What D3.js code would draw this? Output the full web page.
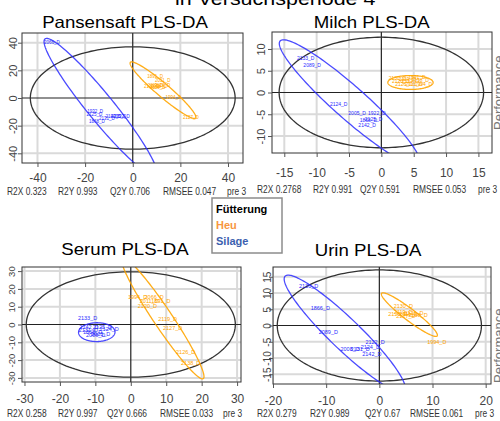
<!DOCTYPE html>
<html><head><meta charset="utf-8">
<script src="https://cdn.jsdelivr.net/npm/d3@7"></script>
<style>body{margin:0;background:#fff}svg{display:block}</style>
</head><body><svg width="500" height="421"></svg>
<script>
// ---------- data ----------
const mainTitle = "in Versuchsperiode 4";
const titles = ["Pansensaft PLS-DA", "Milch PLS-DA", "Serum PLS-DA", "Urin PLS-DA"];
const statR2X = ["0.323", "0.2768", "0.258", "0.279"];
const statR2Y = ["0.993", "0.991", "0.997", "0.989"];
const statQ2Y = ["0.706", "0.591", "0.666", "0.67"];
const statRMSEE = ["0.047", "0.053", "0.033", "0.061"];
const statPre = ["3", "3", "3", "3"];
const legendTitle = "Fütterung";
const groups = ["Heu", "Silage"];

const pansTicksX = [-40, -20, 0, 20, 40];
const pansTicksY = [-40, -20, 0, 20, 40];
const milchTicksX = [-15, -10, -5, 0, 5, 10, 15];
const milchTicksY = [-10, -5, 0, 5, 10];
const serumTicksX = [-30, -20, -10, 0, 10, 20, 30];
const serumTicksY = [-30, -20, -10, 0, 10, 20, 30];
const urinTicksX = [-20, -10, 0, 10, 20];
const urinTicksY = [-15, -10, -5, 0, 5, 10, 15];

// scores [t1, t2, sample]
const pansHeu = [[9.4,15.9,"1891_D"],[12.6,12.5,"2011_D"],[8,8.3,"2120_D"],[9.5,9,"2119_D"],[11,8.5,"2138_D"],[12.5,9,"2126_D"],[10.5,7.8,"2130_D"],[17.1,0.6,"1994_D"],[24.4,-14.2,"2127_D"]];
const pansSilage = [[-34,40.2,"2066_D"],[-15.8,-9.4,"1932_D"],[-16.1,-11.8,"2125_D"],[-15.1,-17.1,"1868_D"],[-10.9,-14.7,"2131_D"],[-8.1,-13.5,"2142_D"],[-6,-13.5,"2005_D"],[-4.6,-13.5,"2122_D"]];
const milchHeu = [[3,2.5,"2120_D"],[4,3,"2119_D"],[5,2,"2011_D"],[6,2.8,"2138_D"],[3.5,1.8,"2126_D"],[5.5,3.5,"1891_D"],[6.5,2,"1994_D"],[4.5,2.5,"2127_D"],[2.5,3.2,"2130_D"]];
const milchSilage = [[-11.7,7.8,"2133_D"],[-10.7,6.3,"2089_D"],[-6.6,-2.7,"2124_D"],[-3.75,-4.7,"2005_D"],[-0.7,-4.7,"1922_D"],[-2,-6.4,"1868_D"],[-1.2,-6.2,"2125_D"],[-2.2,-7.5,"2142_D"]];
const serumHeu = [[1.9,15.6,"1994_D"],[6.6,15.6,"2066_D"],[5.2,13.4,"2011_D"],[8.5,13.4,"1891_D"],[4.7,10.6,"2120_D"],[10.4,3.2,"2119_D"],[11.8,-2.1,"2127_D"],[15.5,-15.5,"2126_D"],[16.9,-21.6,"2138_D"]];
const serumSilage = [[-12.2,3.5,"2133_D"],[-11.8,-1.5,"2142_D"],[-8,-1.5,"2125_D"],[-6.1,-2.4,"2124_D"],[-10.8,-4.3,"1868_D"],[-8.5,-5.2,"2005_D"],[-9.9,-6.1,"2089_D"],[-12,-3,"2131_D"]];
const urinHeu = [[4.5,6,"2130_D"],[3.5,3.5,"2120_D"],[4.5,4,"2119_D"],[5.5,3.5,"2011_D"],[6.5,3.8,"2126_D"],[7.3,3.3,"2138_D"],[5,3,"2127_D"],[10.8,-5,"1994_D"]];
const urinSilage = [[-13.3,12.1,"2130_D"],[-11.1,5.3,"1866_D"],[-9.6,-2.1,"2089_D"],[-0.8,-5.2,"2122_D"],[-1.7,-6.7,"2124_D"],[-5.5,-7.4,"2008_D"],[-3.6,-7.4,"2131_D"],[-1.4,-8.9,"2142_D"]];

// group ellipses [centre t1, centre t2, semi-axis t1, semi-axis t2, minor half-width]
const pansHeuEll = [12.7, 5.65, 13.5, -20.35, 3.5];
const pansSilageEll = [-13.5, -6.7, -23, 49.7, 6.5];
const milchHeuEll = [4.5, 2.3, 3.5, 0, 1.6];
const milchSilageEll = [-4.9, -2.3, -10.6, 14.3, 3];
const serumHeuEll = [9, 3.6, 11.3, -34.1, 3];
const serumSilageEll = [-9.6, -4.3, 4.9, -1.5, 5.3];
const urinHeuEll = [5.65, 3.35, 5.15, -6.65, 1.4];
const urinSilageEll = [-6.5, -2.5, -11, 17.9, 3.5];
// Hotelling T2 ellipse radii [t1, t2]
const pansT2 = [43, 37];
const milchT2 = [15.8, 12.7];
const serumT2 = [29.5, 29.6];
const urinT2 = [19.2, 17.1];

// ---------- drawing ----------
const HEU = "#ffa500", SIL = "#2b2bff";
const FONT = "Liberation Sans, Arial, sans-serif";
const svg = d3.select("svg");
const defs = svg.append("defs");

const panels = [
  {box:[22,33,243,163], xd:[-46.5,46.3], yd:[-47,47], xt:pansTicksX, yt:pansTicksY, heu:pansHeu, sil:pansSilage, eh:pansHeuEll, es:pansSilageEll, t2:pansT2,
   tx:125, ty:28.3, xlabY:181.5, ylabX:16.7, yfs:11, statY:195, statX:[7,58,110,163,227], fs:4.5},
  {box:[272,32,492,153], xd:[-16.9,17.1], yd:[-13.9,13.9], xt:milchTicksX, yt:milchTicksY, heu:milchHeu, sil:milchSilage, eh:milchHeuEll, es:milchSilageEll, t2:milchT2,
   tx:371.7, ty:28.3, xlabY:177, ylabX:265, yfs:11, statY:192.5, statX:[257,313,360,413,478], fs:5},
  {box:[22,267,241,382], xd:[-30.7,31.1], yd:[-32.3,32.3], xt:serumTicksX, yt:serumTicksY, heu:serumHeu, sil:serumSilage, eh:serumHeuEll, es:serumSilageEll, t2:serumT2,
   tx:125, ty:255, xlabY:403, ylabX:15, yfs:9.5, statY:417, statX:[7,58,107,160,223], fs:5.5},
  {box:[273,267,491,384], xd:[-20,21], yd:[-18,18], xt:urinTicksX, yt:urinTicksY, heu:urinHeu, sil:urinSilage, eh:urinHeuEll, es:urinSilageEll, t2:urinT2,
   tx:368, ty:255.5, xlabY:405, ylabX:270.7, yfs:10, statY:417, statX:[257,310,365,410,475], fs:5.5}
];

function ellipsePts(cx, cy, ux, uy, bw) {
  const L = Math.hypot(ux, uy), dx = ux / L, dy = uy / L;
  const px = dy, py = -dx;
  return d3.range(0, 2 * Math.PI, Math.PI / 90).map(t => [
    cx + ux * Math.cos(t) + bw * px * Math.sin(t),
    cy + uy * Math.cos(t) + bw * py * Math.sin(t)
  ]);
}

panels.forEach((p, i) => {
  const [l, t, r, b] = p.box;
  const x = d3.scaleLinear().domain(p.xd).range([l, r]);
  const y = d3.scaleLinear().domain(p.yd).range([b, t]);
  defs.append("clipPath").attr("id", "clip" + i).append("rect")
    .attr("x", l).attr("y", t).attr("width", r - l).attr("height", b - t);
  const g = svg.append("g");
  const inner = g.append("g").attr("clip-path", `url(#clip${i})`);

  // grid
  inner.selectAll(".gx").data(p.xt.filter(d => d !== 0)).join("line")
    .attr("x1", d => x(d)).attr("x2", d => x(d)).attr("y1", t).attr("y2", b)
    .attr("stroke", "#dadada").attr("stroke-width", 2);
  inner.selectAll(".gy").data(p.yt.filter(d => d !== 0)).join("line")
    .attr("y1", d => y(d)).attr("y2", d => y(d)).attr("x1", l).attr("x2", r)
    .attr("stroke", "#dadada").attr("stroke-width", 2);
  // zero lines
  inner.append("line").attr("x1", x(0)).attr("x2", x(0)).attr("y1", t).attr("y2", b)
    .attr("stroke", "#222").attr("stroke-width", 1.2);
  inner.append("line").attr("y1", y(0)).attr("y2", y(0)).attr("x1", l).attr("x2", r)
    .attr("stroke", "#222").attr("stroke-width", 1.2);

  const line = d3.line().x(d => x(d[0])).y(d => y(d[1])).curve(d3.curveLinearClosed);
  // Hotelling T2
  inner.append("path").attr("d", line(ellipsePts(0, 0, p.t2[0], 0, p.t2[1])))
    .attr("fill", "none").attr("stroke", "#333").attr("stroke-width", 1.3);
  // group ellipses
  inner.append("path").attr("d", line(ellipsePts(...p.es)))
    .attr("fill", "none").attr("stroke", SIL).attr("stroke-width", 1.3).attr("opacity", 0.85);
  inner.append("path").attr("d", line(ellipsePts(...p.eh)))
    .attr("fill", "none").attr("stroke", HEU).attr("stroke-width", 1.3).attr("opacity", 0.9);
  // sample labels
  [[p.sil, SIL], [p.heu, HEU]].forEach(([data, col]) => {
    inner.append("g").selectAll("text").data(data).join("text")
      .attr("x", d => x(d[0])).attr("y", d => y(d[1]))
      .attr("dy", "0.35em").attr("text-anchor", "middle")
      .attr("font-family", FONT).attr("font-size", p.fs)
      .attr("fill", col).text(d => d[2]);
  });

  // box
  g.append("rect").attr("x", l).attr("y", t).attr("width", r - l).attr("height", b - t)
    .attr("fill", "none").attr("stroke", "#333").attr("stroke-width", 1);

  // axes
  const ax = g.append("g").attr("transform", `translate(0,${b})`)
    .call(d3.axisBottom(x).tickValues(p.xt).tickSize(4).tickFormat(d => String(d)));
  ax.select(".domain").remove();
  ax.selectAll("line").attr("stroke", "#555");
  ax.selectAll("text").attr("y", p.xlabY - b).attr("dy", null)
    .attr("font-family", FONT).attr("font-size", 12).attr("fill", "#444");
  const ay = g.append("g").attr("transform", `translate(${l},0)`)
    .call(d3.axisLeft(y).tickValues(p.yt).tickSize(4).tickFormat(d => String(d)));
  ay.select(".domain").remove();
  ay.selectAll("line").attr("stroke", "#555");
  ay.selectAll("text").attr("x", null).attr("dy", null).attr("text-anchor", "middle")
    .attr("transform", `translate(${p.ylabX - l},0) rotate(-90)`)
    .attr("font-family", FONT).attr("font-size", p.yfs).attr("fill", "#444");

  // title
  svg.append("text").attr("transform", `translate(${p.tx},${p.ty}) scale(1.13,1)`)
    .attr("text-anchor", "middle").attr("font-family", FONT)
    .attr("font-size", 16.5).attr("fill", "#000").text(titles[i]);

  // stats line (condensed)
  const stats = ["R2X " + statR2X[i], "R2Y " + statR2Y[i], "Q2Y " + statQ2Y[i], "RMSEE " + statRMSEE[i], "pre " + statPre[i]];
  svg.append("g").selectAll("text").data(stats).join("text")
    .attr("transform", (d, k) => `translate(${p.statX[k]},${p.statY}) scale(0.8,1)`)
    .attr("font-family", FONT)
    .attr("font-size", 10.5).attr("fill", "#333").text(d => d);
});

// main title (cut at top)
svg.append("text").attr("transform", "translate(175,5) scale(1.13,1)")
  .attr("font-family", FONT).attr("font-size", 19)
  .attr("fill", "#000").text(mainTitle);

// "Performance" side labels (cut at right)
[[503, 130], [503, 383]].forEach(([px, py]) => {
  svg.append("text").attr("transform", `translate(${px},${py}) rotate(-90)`)
    .attr("font-family", FONT).attr("font-size", 13)
    .attr("fill", "#777").text("Performance");
});

// legend
const lg = svg.append("g");
lg.append("rect").attr("x", 212).attr("y", 198).attr("width", 70).attr("height", 55)
  .attr("fill", "#fff").attr("stroke", "#8c8c8c").attr("stroke-width", 1.5);
lg.append("text").attr("x", 216).attr("y", 212.5).attr("font-family", FONT)
  .attr("font-weight", "bold").attr("font-size", 11).attr("fill", "#000").text(legendTitle);
const legendCols = ["#f7963f", "#3c5faf"];
lg.selectAll(".lt").data(groups).join("text")
  .attr("x", 216).attr("y", (d, k) => 229 + k * 16)
  .attr("font-family", FONT).attr("font-weight", "bold")
  .attr("font-size", 11).attr("fill", (d, k) => legendCols[k]).text(d => d);
</script>
</body></html>
